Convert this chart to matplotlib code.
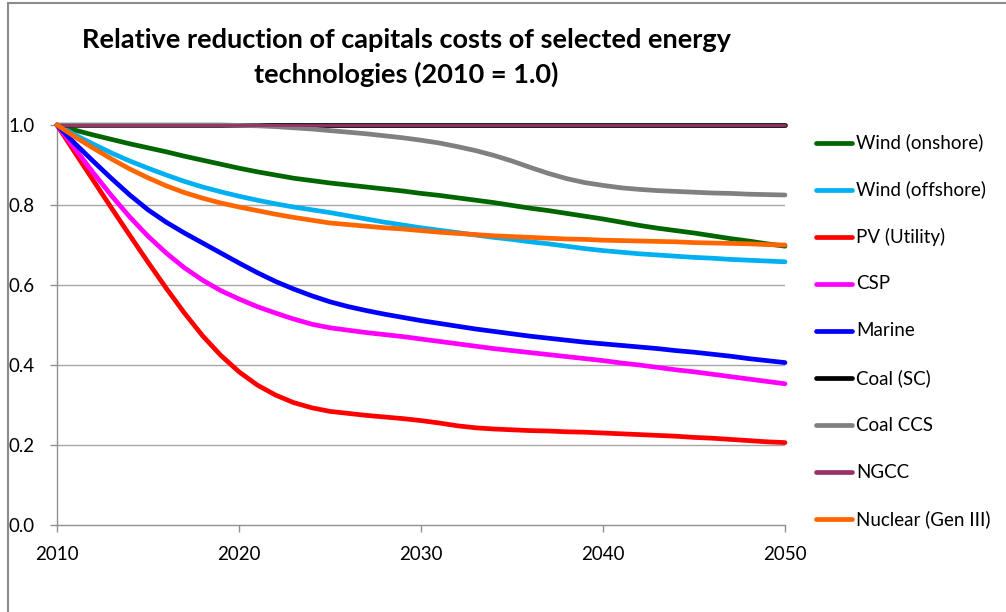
import matplotlib
matplotlib.use("Agg")
import matplotlib.pyplot as plt
from matplotlib.lines import Line2D

years = list(range(2010, 2051))

wind_onshore = [1.0, 0.987, 0.975, 0.964, 0.953, 0.943, 0.933, 0.922, 0.912, 0.902, 0.892,
                0.883, 0.875, 0.867, 0.861, 0.855, 0.850, 0.845, 0.840, 0.835, 0.829,
                0.824, 0.818, 0.812, 0.806, 0.799, 0.792, 0.786, 0.779, 0.772, 0.765,
                0.757, 0.749, 0.742, 0.736, 0.730, 0.723, 0.716, 0.710, 0.703, 0.697]
wind_offshore = [1.0, 0.975, 0.952, 0.930, 0.910, 0.892, 0.875, 0.859, 0.845, 0.833, 0.822,
                 0.812, 0.803, 0.795, 0.788, 0.781, 0.773, 0.765, 0.757, 0.750, 0.743,
                 0.737, 0.731, 0.725, 0.719, 0.714, 0.708, 0.703, 0.697, 0.691, 0.686,
                 0.682, 0.678, 0.675, 0.672, 0.669, 0.667, 0.664, 0.662, 0.660, 0.658]
pv_utility = [1.0, 0.930, 0.861, 0.792, 0.724, 0.657, 0.592, 0.530, 0.473, 0.424, 0.383,
              0.350, 0.325, 0.306, 0.293, 0.284, 0.279, 0.274, 0.270, 0.266, 0.261,
              0.255, 0.248, 0.243, 0.240, 0.238, 0.236, 0.235, 0.233, 0.232, 0.230,
              0.228, 0.226, 0.224, 0.222, 0.219, 0.217, 0.214, 0.211, 0.208, 0.206]
csp = [1.0, 0.940, 0.880, 0.823, 0.770, 0.722, 0.680, 0.643, 0.612, 0.586, 0.565,
       0.546, 0.530, 0.515, 0.502, 0.493, 0.487, 0.481, 0.476, 0.471, 0.465,
       0.459, 0.453, 0.447, 0.441, 0.436, 0.431, 0.426, 0.421, 0.416, 0.411,
       0.405, 0.400, 0.394, 0.388, 0.383, 0.377, 0.371, 0.365, 0.359, 0.353]
marine = [1.0, 0.953, 0.909, 0.866, 0.825, 0.788, 0.757, 0.730, 0.705, 0.680, 0.655,
          0.631, 0.609, 0.590, 0.573, 0.558, 0.546, 0.536, 0.527, 0.519, 0.511,
          0.504, 0.497, 0.490, 0.484, 0.478, 0.472, 0.467, 0.462, 0.457, 0.453,
          0.449, 0.445, 0.441, 0.436, 0.432, 0.427, 0.422, 0.416, 0.411, 0.406]
coal_sc = [1.0] * 41
coal_ccs = [1.0, 1.0, 1.0, 1.0, 1.0, 1.0, 1.0, 1.0, 1.0, 1.0, 0.999,
            0.998, 0.996, 0.993, 0.990, 0.986, 0.982, 0.978, 0.973, 0.968, 0.962,
            0.955, 0.946, 0.936, 0.924, 0.910, 0.894, 0.879, 0.866, 0.856, 0.849,
            0.843, 0.839, 0.836, 0.834, 0.832, 0.830, 0.829, 0.827, 0.826, 0.825]
ngcc = [1.0] * 41
nuclear = [1.0, 0.970, 0.942, 0.915, 0.890, 0.868, 0.848, 0.831, 0.817, 0.805, 0.795,
           0.786, 0.777, 0.769, 0.762, 0.755, 0.751, 0.747, 0.743, 0.740, 0.736,
           0.732, 0.729, 0.726, 0.723, 0.721, 0.719, 0.717, 0.715, 0.714, 0.712,
           0.711, 0.710, 0.709, 0.708, 0.706, 0.705, 0.704, 0.703, 0.701, 0.700]

labels = ["Wind (onshore)", "Wind (offshore)", "PV (Utility)", "CSP", "Marine",
          "Coal (SC)", "Coal CCS", "NGCC", "Nuclear (Gen III)"]
series = [wind_onshore, wind_offshore, pv_utility, csp, marine,
          coal_sc, coal_ccs, ngcc, nuclear]
colors = ["#006600", "#00B0F0", "#FF0000", "#FF00FF", "#0000FF",
          "#000000", "#808080", "#993366", "#FF6600"]
widths = [3.4, 3.4, 3.4, 3.4, 3.4, 3.4, 3.4, 2.0, 3.4]

x_ticks = [2010, 2020, 2030, 2040, 2050]
y_ticks = [0.0, 0.2, 0.4, 0.6, 0.8, 1.0]

FONT = "Lato"
W, H = 1006, 612
fig = plt.figure(figsize=(W / 100, H / 100), dpi=100)
fig.patch.set_facecolor("white")

ax = fig.add_axes([57 / W, (H - 525) / H, (785 - 57) / W, (525 - 125) / H])
ax.set_xlim(2010, 2050)
ax.set_ylim(0, 1.0)

for yv in y_ticks[1:]:
    ax.axhline(yv, color="#A6A6A6", lw=1.0, zorder=1)

for vals, c, lw in zip(series, colors, widths):
    ax.plot(years, vals, color=c, lw=lw, solid_capstyle="round",
            solid_joinstyle="round", clip_on=False, zorder=3)

for s in ["top", "right"]:
    ax.spines[s].set_visible(False)
for s in ["left", "bottom"]:
    ax.spines[s].set_color("#909090")
    ax.spines[s].set_linewidth(1.0)

ax.set_xticks(x_ticks)
ax.set_xticklabels([str(v) for v in x_ticks])
ax.set_yticks(y_ticks)
ax.set_yticklabels([f"{v:.1f}" for v in y_ticks])
ax.tick_params(axis="both", direction="out", length=5, width=1.0,
               color="#909090", labelsize=13.5, labelcolor="black")
ax.tick_params(axis="x", pad=10)
ax.tick_params(axis="y", pad=11)
for lab in ax.get_xticklabels() + ax.get_yticklabels():
    lab.set_fontfamily(FONT)

# Legend (manual, Excel-like)
for i, (lab, c) in enumerate(zip(labels, colors)):
    yp = 142.5 + i * 47.1
    fy = 1 - yp / H
    fig.add_artist(Line2D([816 / W, 852 / W], [fy, fy], color=c, lw=3.4,
                          solid_capstyle="round"))
    fig.text(856 / W, fy, lab, ha="left", va="center", fontsize=13.5,
             fontfamily=FONT, color="black")

# Title
fig.text(406 / W, 1 - 40 / H, "Relative reduction of capitals costs of selected energy",
         ha="center", va="center", fontsize=19.5, fontweight="bold", fontfamily=FONT)
fig.text(406 / W, 1 - 74 / H, "technologies (2010 = 1.0)",
         ha="center", va="center", fontsize=19.5, fontweight="bold", fontfamily=FONT)

# Chart border (left & top visible)
fig.add_artist(Line2D([7.5 / W, 7.5 / W], [0, 1 - 2.5 / H], color="#8C8C8C", lw=1.5))
fig.add_artist(Line2D([7.5 / W, 1], [1 - 2.5 / H, 1 - 2.5 / H], color="#8C8C8C", lw=1.5))

fig.savefig("out.png", dpi=100, facecolor="white")
